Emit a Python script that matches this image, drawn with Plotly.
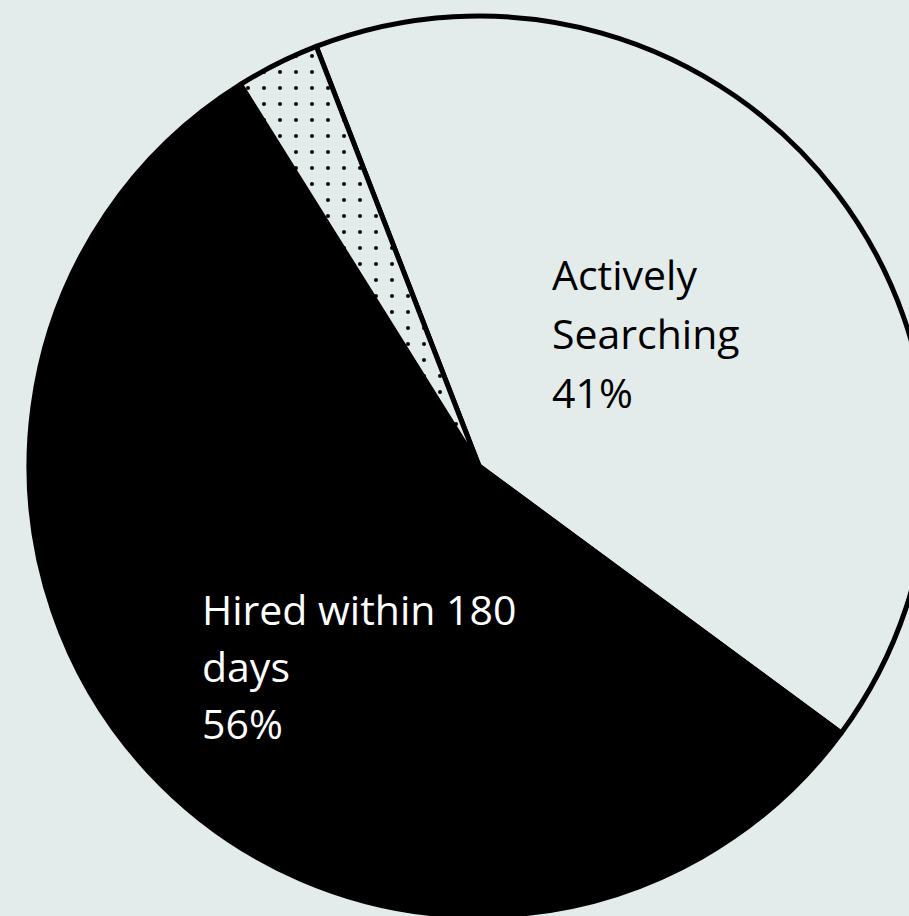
import plotly.graph_objects as go

# ---- data ----
labels = ["Actively Searching", "Hired within 180 days", "Other"]
label_lines = [["Actively", "Searching"], ["Hired within 180", "days"], []]
values = [41, 56, 3]

BG = "#e4eceb"
W, H = 930, 916

fig = go.Figure()
fig.add_trace(go.Pie(
    labels=labels,
    values=values,
    sort=False,
    direction="clockwise",
    rotation=-21.2,
    textinfo="none",
    hoverinfo="label+percent",
    marker=dict(
        colors=[BG, "#000000", BG],
        line=dict(color="#000000", width=5),
        pattern=dict(
            shape=["", "", "."],
            fgcolor="#000000",
            bgcolor=BG,
            size=16,
            solidity=0.05,
        ),
    ),
    domain=dict(x=[29 / W, 929 / W], y=[0, 1 - 16 / H]),
    showlegend=False,
))

total = sum(values)
# text placement (pixels from top-left): left x, first line middle y, line gap, colour
placements = [(550, 274, 59, "#000000"), (200, 609, 57, "#ffffff"), None]
fs = 41
for i, pl in enumerate(placements):
    if pl is None:
        continue
    x0, y0, gap, col = pl
    lines = label_lines[i] + [f"{round(values[i] / total * 100)}%"]
    for k, t in enumerate(lines):
        fig.add_annotation(
            text=t, xref="paper", yref="paper",
            x=x0 / W, y=1 - (y0 + k * gap) / H,
            xanchor="left", yanchor="middle", showarrow=False,
            font=dict(family="Open Sans", size=fs, color=col),
        )

fig.update_layout(
    width=W, height=H,
    margin=dict(l=0, r=0, t=0, b=0),
    paper_bgcolor=BG, plot_bgcolor=BG,
)
fig.write_html("out.html")
